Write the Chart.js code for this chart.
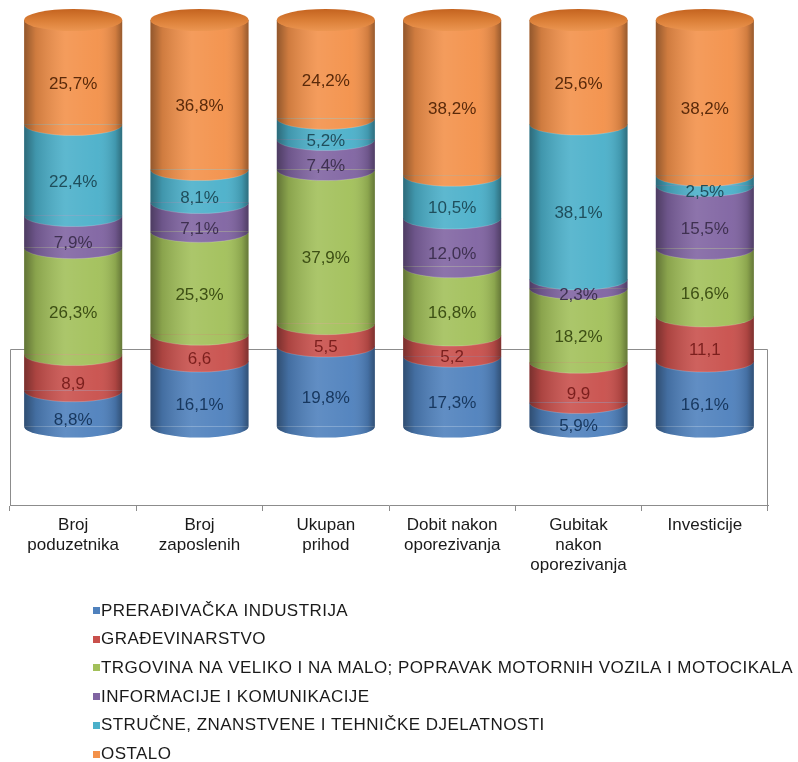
<!DOCTYPE html>
<html>
<head>
<meta charset="utf-8">
<script src="https://cdn.jsdelivr.net/npm/chart.js@4.4.0/dist/chart.umd.min.js"></script>
<style>
html, body { margin: 0; padding: 0; background: #fff; }
#wrap { width: 798px; height: 762px; }
</style>
</head>
<body>
<div id="wrap"><canvas id="myChart"></canvas></div>
<script>
const categories = [
    ['Broj', 'poduzetnika'],
    ['Broj', 'zaposlenih'],
    ['Ukupan', 'prihod'],
    ['Dobit nakon', 'oporezivanja'],
    ['Gubitak', 'nakon', 'oporezivanja'],
    ['Investicije']
]

const seriesNames = [
    'PRERAĐIVAČKA INDUSTRIJA',
    'GRAĐEVINARSTVO',
    'TRGOVINA NA VELIKO I NA MALO; POPRAVAK MOTORNIH VOZILA I MOTOCIKALA',
    'INFORMACIJE I KOMUNIKACIJE',
    'STRUČNE, ZNANSTVENE I TEHNIČKE DJELATNOSTI',
    'OSTALO'
]

// od dna prema vrhu stupca
const preradivacka = [8.8, 16.1, 19.8, 17.3, 5.9, 16.1]
const gradevinarstvo = [8.9, 6.6, 5.5, 5.2, 9.9, 11.1]
const trgovina = [26.3, 25.3, 37.9, 16.8, 18.2, 16.6]
const informacije = [7.9, 7.1, 7.4, 12.0, 2.3, 15.5]
const strucne = [22.4, 8.1, 5.2, 10.5, 38.1, 2.5]
const ostalo = [25.7, 36.8, 24.2, 38.2, 25.6, 38.2]

const colors = ['#4F81BD', '#C9504C', '#A2C05A', '#8064A2', '#4BB0CA', '#F3914A']
const labelColors = ['#17375E', '#7B1F1D', '#3D4F14', '#3F3151', '#1F4E5C', '#5A2A0A']
const withPercent = [true, false, true, true, true, true]

const RY = 11
const FONT = "'Liberation Sans', Arial, sans-serif"

const fmt = (v, pct) => v.toFixed(1).replace('.', ',') + (pct ? '%' : '')

const cylinders = {
    id: 'cylinders',
    beforeDatasetsDraw(chart) {
        const { ctx, chartArea: a, scales: { y } } = chart
        const yb = Math.round(y.getPixelForValue(19)) + 0.5
        ctx.save()
        ctx.strokeStyle = '#8c8c8c'
        ctx.lineWidth = 1
        ctx.beginPath()
        ctx.moveTo(a.left + 0.5, a.bottom)
        ctx.lineTo(a.left + 0.5, yb)
        ctx.lineTo(a.right - 0.5, yb)
        ctx.lineTo(a.right - 0.5, a.bottom)
        ctx.stroke()
        ctx.restore()
    },
    afterDatasetsDraw(chart) {
        const ctx = chart.ctx
        const metas = chart.data.datasets.map((d, i) => chart.getDatasetMeta(i))
        const n = metas.length
        ctx.save()
        // donji lukovi svakog segmenta
        metas.forEach((m, d) => {
            m.data.forEach(el => {
                ctx.beginPath()
                ctx.ellipse(el.x, el.base, el.width / 2, RY, 0, 0, Math.PI)
                ctx.fillStyle = colors[d]
                ctx.fill()
                if (d > 0) {
                    ctx.beginPath()
                    ctx.ellipse(el.x, el.base, el.width / 2, RY, 0, 0.15, Math.PI - 0.15)
                    ctx.strokeStyle = 'rgba(255,255,255,0.2)'
                    ctx.lineWidth = 1
                    ctx.stroke()
                }
            })
        })
        // sjencanje valjka + poklopac
        metas[0].data.forEach((el0, i) => {
            const topEl = metas[n - 1].data[i]
            const x = el0.x, w = el0.width / 2, yT = topEl.y, yB = el0.base
            ctx.beginPath()
            ctx.moveTo(x - w, yT)
            ctx.lineTo(x + w, yT)
            ctx.lineTo(x + w, yB)
            ctx.ellipse(x, yB, w, RY, 0, 0, Math.PI)
            ctx.closePath()
            const g = ctx.createLinearGradient(x - w, 0, x + w, 0)
            g.addColorStop(0, 'rgba(0,0,0,0.4)')
            g.addColorStop(0.12, 'rgba(0,0,0,0.15)')
            g.addColorStop(0.42, 'rgba(255,255,255,0.1)')
            g.addColorStop(0.75, 'rgba(255,255,255,0.04)')
            g.addColorStop(0.93, 'rgba(0,0,0,0.14)')
            g.addColorStop(1, 'rgba(0,0,0,0.38)')
            ctx.fillStyle = g
            ctx.fill()

            ctx.beginPath()
            ctx.ellipse(x, yT, w, RY, 0, 0, Math.PI * 2)
            const cg = ctx.createLinearGradient(0, yT - RY, 0, yT + RY)
            cg.addColorStop(0, '#C4631F')
            cg.addColorStop(0.5, '#DA7E36')
            cg.addColorStop(1, '#EC9652')
            ctx.fillStyle = cg
            ctx.fill()
        })

        // oznake podataka
        ctx.font = '17px ' + FONT
        ctx.textAlign = 'center'
        ctx.textBaseline = 'middle'
        metas.forEach((m, d) => {
            const vals = chart.data.datasets[d].data
            m.data.forEach((el, i) => {
                ctx.fillStyle = labelColors[d]
                ctx.fillText(fmt(vals[i], withPercent[d]), el.x, (el.y + el.base) / 2 + 12)
            })
        })
        ctx.restore()
    },
    afterDraw(chart) {
        const ctx = chart.ctx
        ctx.save()
        ctx.font = '17px ' + FONT
        ctx.letterSpacing = '0.45px'
        ctx.textAlign = 'left'
        ctx.textBaseline = 'middle'
        chart.data.datasets.forEach((ds, i) => {
            const y = 611 + i * 28.7
            ctx.fillStyle = colors[i]
            ctx.fillRect(93, Math.round(y) - 4, 7, 7)
            ctx.fillStyle = '#1a1a1a'
            ctx.fillText(ds.label, 101, y)
        })
        ctx.restore()
    }
}

const seriesValues = [preradivacka, gradevinarstvo, trgovina, informacije, strucne, ostalo]

const data = {
    labels: categories,
    datasets: seriesValues.map((vals, i) => ({
        label: seriesNames[i],
        data: vals,
        backgroundColor: colors[i],
        borderWidth: 0,
        barPercentage: 0.776,
        categoryPercentage: 1
    }))
}

const config = {
    type: 'bar',
    data: data,
    plugins: [cylinders],
    options: {
        responsive: true,
        maintainAspectRatio: false,
        animation: false,
        layout: { padding: { top: 20, left: 10, right: 30, bottom: 0 } },
        plugins: {
            legend: { display: false },
            tooltip: { enabled: false }
        },
        scales: {
            x: {
                stacked: true,
                grid: { offset: true, drawOnChartArea: false, drawTicks: true, tickLength: 6, color: '#8c8c8c' },
                border: { display: true, color: '#8c8c8c' },
                ticks: {
                    font: { family: FONT, size: 17, lineHeight: 1.18 },
                    color: '#1a1a1a',
                    padding: 4,
                    maxRotation: 0,
                    autoSkip: false
                },
                afterFit(scale) { scale.height = 257 }
            },
            y: {
                stacked: true,
                display: false,
                min: -19.3,
                max: 100
            }
        }
    }
}

const myChart = new Chart(document.getElementById('myChart').getContext('2d'), config)
</script>
</body>
</html>
